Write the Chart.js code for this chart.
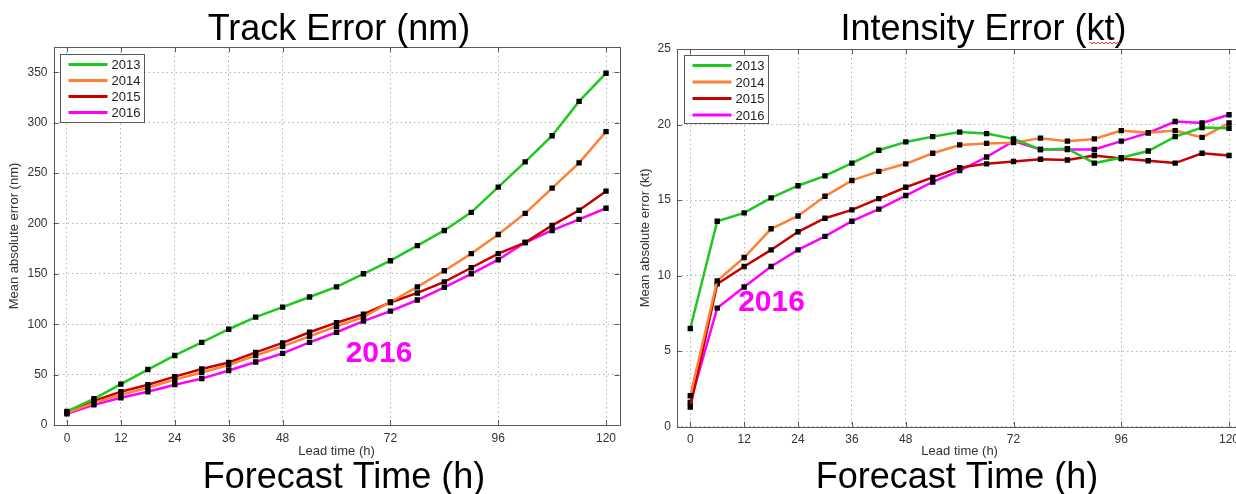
<!DOCTYPE html>
<html>
<head>
<meta charset="utf-8">
<script src="https://cdn.jsdelivr.net/npm/chart.js@4"></script>
<style>
  html, body { margin: 0; padding: 0; background: #fff; overflow: hidden; }
  body { width: 1236px; height: 494px; position: relative; }
  canvas { position: absolute; top: 0; }
  #grafico-track { left: 0; }
  #grafico-intensidad { left: 630px; }
</style>
</head>
<body>
<canvas id="grafico-track" width="630" height="494"></canvas>
<canvas id="grafico-intensidad" width="620" height="494"></canvas>
<script>
// Datos
const horas = [0, 6, 12, 18, 24, 30, 36, 42, 48, 54, 60, 66, 72, 78, 84, 90, 96, 102, 108, 114, 120];
const ticksX = [0, 12, 24, 36, 48, 72, 96, 120];
const anios = ['2013', '2014', '2015', '2016'];
const colores = ['#1ec81e', '#ff8036', '#c80000', '#ff00ff'];

const track2013 = [13.5, 26, 40.5, 55, 69, 82, 95, 107, 117, 127, 137, 150, 163, 178, 193, 211, 236, 261, 287, 321, 349];
const track2014 = [12, 22, 30, 37, 45, 52, 59.5, 69, 78, 88, 98, 107, 122, 137, 153, 170, 189, 210, 235, 260, 291];
const track2015 = [12.5, 24, 33, 40, 48, 55.5, 62, 72, 81.5, 92, 101.5, 110, 121.5, 131, 142, 156, 170, 181, 198, 213, 232];
const track2016 = [11, 20, 27, 33, 40, 46, 54, 62.5, 71, 82, 92, 103, 113, 124, 136.5, 150, 164, 181, 193, 204, 215];

const inten2013 = [6.5, 13.6, 14.15, 15.15, 15.95, 16.6, 17.45, 18.3, 18.85, 19.2, 19.5, 19.4, 19.05, 18.35, 18.4, 17.45, 17.8, 18.25, 19.2, 19.8, 19.75];
const inten2014 = [2.05, 9.65, 11.2, 13.1, 13.95, 15.25, 16.3, 16.9, 17.4, 18.1, 18.65, 18.75, 18.8, 19.1, 18.9, 19.05, 19.6, 19.45, 19.6, 19.15, 20.1];
const inten2015 = [1.3, 9.45, 10.6, 11.7, 12.9, 13.8, 14.35, 15.1, 15.85, 16.5, 17.15, 17.4, 17.55, 17.7, 17.65, 17.95, 17.75, 17.6, 17.45, 18.1, 17.95];
const inten2016 = [1.6, 7.85, 9.25, 10.6, 11.7, 12.6, 13.6, 14.4, 15.3, 16.2, 16.95, 17.85, 18.9, 18.35, 18.35, 18.35, 18.9, 19.45, 20.2, 20.1, 20.65];

const fuente = "'Liberation Sans', Arial, sans-serif";

function armarDatasets(series) {
  return series.map((valores, i) => ({
    label: anios[i],
    data: valores.map((v, j) => ({ x: horas[j], y: v })),
    borderColor: colores[i],
    borderWidth: 2.5,
    pointStyle: 'rect',
    pointRadius: 3.8,
    pointBackgroundColor: '#000',
    pointBorderColor: '#000',
    pointBorderWidth: 0,
    tension: 0
  }));
}

// Marco, ticks hacia adentro, leyenda y textos
function pluginTextos(cfg) {
  return {
    id: 'textos',
    afterDraw(chart) {
      const { ctx, chartArea: a } = chart;
      const x = chart.scales.x, y = chart.scales.y;
      ctx.save();

      ctx.strokeStyle = '#5a5a5a';
      ctx.lineWidth = 1;
      ctx.beginPath();
      x.ticks.forEach(t => {
        const px = Math.round(x.getPixelForValue(t.value)) + 0.5;
        ctx.moveTo(px, a.bottom); ctx.lineTo(px, a.bottom - 5);
        ctx.moveTo(px, a.top); ctx.lineTo(px, a.top + 5);
      });
      y.ticks.forEach(t => {
        const py = Math.round(y.getPixelForValue(t.value)) + 0.5;
        ctx.moveTo(a.left, py); ctx.lineTo(a.left + 5, py);
        ctx.moveTo(a.right, py); ctx.lineTo(a.right - 5, py);
      });
      ctx.stroke();
      ctx.strokeRect(Math.round(a.left) + 0.5, Math.round(a.top) + 0.5, Math.round(a.right - a.left), Math.round(a.bottom - a.top));

      // leyenda
      const lx = Math.round(a.left) + cfg.leyenda.dx + 0.5;
      const ly = Math.round(a.top) + cfg.leyenda.dy + 0.5;
      ctx.fillStyle = '#fff';
      ctx.fillRect(lx, ly, 84, 68);
      ctx.strokeStyle = '#5a5a5a';
      ctx.strokeRect(lx, ly, 84, 68);
      ctx.font = '13px ' + fuente;
      ctx.textBaseline = 'middle';
      ctx.textAlign = 'left';
      anios.forEach((anio, i) => {
        const yy = ly + 10 + i * cfg.leyenda.paso;
        ctx.strokeStyle = colores[i];
        ctx.lineWidth = 3;
        ctx.beginPath();
        ctx.moveTo(lx + 8, yy); ctx.lineTo(lx + 47, yy);
        ctx.stroke();
        ctx.fillStyle = '#222';
        ctx.fillText(anio, lx + 51, yy + 1);
      });

      // titulos
      ctx.fillStyle = '#000';
      ctx.textAlign = 'center';
      ctx.textBaseline = 'alphabetic';
      ctx.font = '36px ' + fuente;
      ctx.fillText(cfg.titulo, cfg.tituloX, 40);
      ctx.fillText('Forecast Time (h)', cfg.pieX, 488);

      ctx.fillStyle = '#333';
      ctx.font = '13px ' + fuente;
      ctx.fillText('Lead time (h)', (a.left + a.right) / 2, 455);
      ctx.save();
      ctx.translate(cfg.ejeYX, (a.top + a.bottom) / 2);
      ctx.rotate(-Math.PI / 2);
      ctx.textBaseline = 'middle';
      ctx.fillText(cfg.ejeY, 0, 0);
      ctx.restore();

      // marca 2016
      ctx.fillStyle = '#ff00ff';
      ctx.font = 'bold 30px ' + fuente;
      ctx.textBaseline = 'middle';
      ctx.fillText('2016', cfg.marca[0], cfg.marca[1]);

      // subrayado del corrector
      if (cfg.ondulado) {
        const [x0, x1, y0] = cfg.ondulado;
        ctx.strokeStyle = '#e03030';
        ctx.lineWidth = 1;
        ctx.beginPath();
        for (let px = x0, k = 0; px <= x1; px += 2, k++) {
          const py = y0 + (k % 2 ? 1 : -1);
          if (k === 0) ctx.moveTo(px, py); else ctx.lineTo(px, py);
        }
        ctx.stroke();
      }
      ctx.restore();
    }
  };
}

function crearGrafico(id, series, ejes, cfg) {
  const ctx = document.getElementById(id).getContext('2d');
  return new Chart(ctx, {
    type: 'line',
    data: { datasets: armarDatasets(series) },
    options: {
      responsive: false,
      animation: false,
      layout: { padding: { top: ejes.arriba, right: ejes.derecha, left: 0, bottom: 0 } },
      plugins: { legend: { display: false }, tooltip: { enabled: false } },
      scales: {
        x: {
          type: 'linear',
          min: -3, max: 123,
          afterFit: s => { s.height = ejes.altoX; },
          afterBuildTicks: s => { s.ticks = ticksX.map(v => ({ value: v })); },
          border: { display: false, dash: [1.5, 3] },
          grid: { color: '#b4b4b4', lineWidth: 1, drawTicks: false },
          ticks: { padding: 6, color: '#333', font: { size: 12, family: fuente }, maxRotation: 0, autoSkip: false }
        },
        y: {
          min: 0, max: ejes.maxY,
          afterFit: s => { s.width = ejes.anchoY; },
          border: { display: false, dash: [1.5, 3] },
          grid: { color: '#b4b4b4', lineWidth: 1, drawTicks: false },
          ticks: { stepSize: ejes.pasoY, includeBounds: false, padding: 6, color: '#333', font: { size: 12, family: fuente } }
        }
      }
    },
    plugins: [pluginTextos(cfg)]
  });
}

crearGrafico('grafico-track',
  [track2013, track2014, track2015, track2016],
  { arriba: 47, derecha: 10.5, altoX: 69, anchoY: 53.5, maxY: 375, pasoY: 50 },
  { titulo: 'Track Error (nm)', tituloX: 339, pieX: 344, ejeY: 'Mean absolute error (nm)', ejeYX: 14.5,
    marca: [379, 354], leyenda: { dx: 6, dy: 7, paso: 16 } });

crearGrafico('grafico-intensidad',
  [inten2013, inten2014, inten2015, inten2016],
  { arriba: 49, derecha: 7.5, altoX: 67.3, anchoY: 46.8, maxY: 25, pasoY: 5 },
  { titulo: 'Intensity Error (kt)', tituloX: 353.5, pieX: 327, ejeY: 'Mean absolute error (kt)', ejeYX: 15,
    marca: [141.5, 302.5], leyenda: { dx: 7, dy: 6, paso: 16.5 }, ondulado: [460, 492, 43] });
</script>
</body>
</html>
